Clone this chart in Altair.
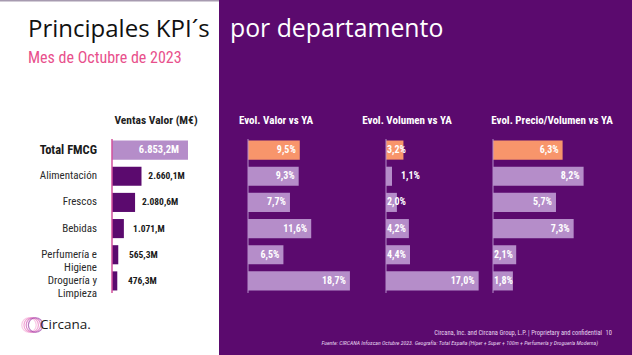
import altair as alt
import pandas as pd

# ---------------- data ----------------
cats = ["Total FMCG", "Alimentación", "Frescos", "Bebidas", "Perfumería", "Droguería"]
cat_labels = ["Total FMCG", "Alimentación", "Frescos", "Bebidas", "Perfumería e\nHigiene", "Droguería y\nLimpieza"]
ventas = [6853.2, 2660.1, 2080.6, 1071.0, 565.3, 476.3]
ventas_labels = ["6.853,2M", "2.660,1M", "2.080,6M", "1.071,M", "565,3M", "476,3M"]
evol_valor = [9.5, 9.3, 7.7, 11.6, 6.5, 18.7]
evol_volumen = [3.2, 1.1, 2.0, 4.2, 4.4, 17.0]
evol_precio = [6.3, 8.2, 5.7, 7.3, 2.1, 1.8]

headers = ["Ventas Valor (M€)", "Evol. Valor vs YA", "Evol. Volumen vs YA", "Evol. Precio/Volumen vs YA"]
title_left = "Principales KPI´s"
title_right = "por departamento"
subtitle = "Mes de Octubre de 2023"
footer1 = "Circana, Inc. and Circana Group, L.P. |  Proprietary and confidential"
page_no = "10"
footer2 = "Fuente: CIRCANA Infoscan Octubre 2023. Geografía: Total España (Híper + Super + 100m + Perfumería y Droguería Moderna)"


def pct(v):
    return f"{v:.1f}%".replace(".", ",")


df = pd.DataFrame({
    "cat": cats,
    "label": cat_labels,
    "ventas": ventas,
    "ventas_lbl": ventas_labels,
    "valor": evol_valor,
    "valor_lbl": [pct(v) for v in evol_valor],
    "volumen": evol_volumen,
    "volumen_lbl": [pct(v) for v in evol_volumen],
    "precio": evol_precio,
    "precio_lbl": [pct(v) for v in evol_precio],
})
one = pd.DataFrame({"k": [0]})

# ---------------- style ----------------
PURPLE = "#5b0a6e"
LAV = "#b58dc9"
ORANGE = "#f8956b"
PINK = "#d2509c"
NARROW = "Liberation Sans Narrow, Roboto Condensed, Roboto, sans-serif"
GEO = "Open Sans, Lato, sans-serif"

yscale = alt.Scale(domain=cats, range=[137, 294], paddingInner=0.27, paddingOuter=0.135)
Y = alt.Y("cat:N", scale=yscale, axis=None)
is_total = alt.datum.cat == "Total FMCG"

sc_ventas = alt.Scale(domain=[0, 8000], range=[112, 200.7])
sc_valor = alt.Scale(domain=[0, 20], range=[248, 357])
sc_volumen = alt.Scale(domain=[0, 20], range=[386, 495])
sc_precio = alt.Scale(domain=[0, 10], range=[493, 603.5])


def txt(t, x, y, size, color, weight="normal", align="center", font=NARROW, style="normal", baseline="middle"):
    return alt.Chart(one).mark_text(
        align=align, baseline=baseline, font=font, fontSize=size, fontWeight=weight,
        color=color, fontStyle=style,
    ).encode(x=alt.value(x), y=alt.value(y), text=alt.value(t))


layers = []

# backgrounds
layers.append(alt.Chart(one).mark_rect(color="white").encode(
    x=alt.value(0), x2=alt.value(219), y=alt.value(0), y2=alt.value(355)))
layers.append(alt.Chart(one).mark_rect(color="#a79bb0").encode(
    x=alt.value(0), x2=alt.value(219), y=alt.value(0), y2=alt.value(1.5)))

# titles
layers.append(txt(title_left, 28, 37, 24, "#111111", font=GEO, align="left", baseline="alphabetic"))
layers.append(txt(title_right, 230, 37, 24.8, "white", font=GEO, align="left", baseline="alphabetic"))
layers.append(txt(subtitle, 28, 63, 16, "#e8508c", align="left", baseline="alphabetic"))

# column headers
layers.append(txt(headers[0], 156, 121, 11.5, "#222222", weight="bold"))
layers.append(txt(headers[1], 276, 121, 11, "white", weight="bold"))
layers.append(txt(headers[2], 407, 121, 11, "white", weight="bold"))
layers.append(txt(headers[3], 552, 121, 11, "white", weight="bold"))

# category labels
layers.append(alt.Chart(df).transform_filter(is_total).mark_text(
    align="right", baseline="middle", font=NARROW, fontSize=12.5, fontWeight="bold", color="#1a1a1a"
).encode(x=alt.value(97), y=Y, text="label:N"))
layers.append(alt.Chart(df).transform_filter(~is_total).mark_text(
    align="right", baseline="middle", font=NARROW, fontSize=11, color="#2a2a2a",
    lineBreak="\n", lineHeight=13,
).encode(x=alt.value(97), y=Y, text="label:N"))

# ventas bars
layers.append(alt.Chart(df).mark_bar().encode(
    x=alt.X("ventas:Q", scale=sc_ventas, axis=None), y=Y,
    color=alt.condition(is_total, alt.value(LAV), alt.value(PURPLE))))
layers.append(alt.Chart(one).mark_rule(color=PINK, strokeWidth=1.5).encode(
    x=alt.XDatum(0, type="quantitative", scale=sc_ventas, axis=None),
    y=alt.value(139), y2=alt.value(293)))
layers.append(alt.Chart(df).transform_filter(is_total).mark_text(
    align="right", baseline="middle", dx=-9, font=NARROW, fontSize=10.5, fontWeight="bold", color="white"
).encode(x=alt.X("ventas:Q", scale=sc_ventas, axis=None), y=Y, text="ventas_lbl:N"))
layers.append(alt.Chart(df).transform_filter(~is_total).mark_text(
    align="center", baseline="middle", dx=25, font=NARROW, fontSize=9.5, fontWeight="bold", color="#1a1a1a"
).encode(x=alt.X("ventas:Q", scale=sc_ventas, axis=None), y=Y, text="ventas_lbl:N"))


def evol(field, sc, px_per_unit):
    out = []
    out.append(alt.Chart(df).mark_bar().encode(
        x=alt.X(f"{field}:Q", scale=sc, axis=None), y=Y,
        color=alt.condition(is_total, alt.value(ORANGE), alt.value(LAV))))
    out.append(alt.Chart(one).mark_rule(color=LAV, strokeWidth=1).encode(
        x=alt.XDatum(0, type="quantitative", scale=sc, axis=None),
        y=alt.value(139), y2=alt.value(293)))
    inside = f"datum.{field} * {px_per_unit} >= 28"
    start = f"datum.{field} * {px_per_unit} < 28 && datum.{field} * {px_per_unit} >= 8"
    outside = f"datum.{field} * {px_per_unit} < 8"
    common = dict(baseline="middle", font=NARROW, fontSize=10, fontWeight="bold", color="white")
    out.append(alt.Chart(df).transform_filter(inside).mark_text(align="right", dx=-4, **common).encode(
        x=alt.X(f"{field}:Q", scale=sc, axis=None), y=Y, text=f"{field}_lbl:N"))
    out.append(alt.Chart(df).transform_filter(start).mark_text(align="left", dx=1, **common).encode(
        x=alt.XDatum(0, type="quantitative", scale=sc, axis=None), y=Y, text=f"{field}_lbl:N"))
    out.append(alt.Chart(df).transform_filter(outside).mark_text(align="left", dx=9, **common).encode(
        x=alt.X(f"{field}:Q", scale=sc, axis=None), y=Y, text=f"{field}_lbl:N"))
    return out


layers += evol("valor", sc_valor, 5.45)
layers += evol("volumen", sc_volumen, 5.45)
layers += evol("precio", sc_precio, 11.05)

# logo
ring_colors = ["#f6b3db", "#ec7fc2", "#d05bb5", "#9b3fa8"]
for i, c in enumerate(ring_colors):
    layers.append(alt.Chart(one).mark_point(shape="circle", filled=False, color=c, strokeWidth=1.2, size=210).encode(
        x=alt.value(29 + 2.2 * i), y=alt.value(325)))
layers.append(txt("Circana.", 40, 325, 13.5, "#1a1a1a", font=GEO, align="left"))

# footer
layers.append(txt(footer1, 602, 333, 6.5, "#e6d6ee", align="right"))
layers.append(txt(page_no, 612, 333, 6.5, "#e6d6ee", align="right"))
layers.append(txt(footer2, 598, 343, 5.8, "#e6d6ee", align="right", style="italic"))

chart = alt.layer(*layers).resolve_scale(x="independent").properties(
    width=632, height=355, padding=0, autosize=alt.AutoSizeParams(type="none"), background=PURPLE
).configure_view(stroke=None)

chart.save("out.html", embed_options={"renderer": "svg", "actions": False})
